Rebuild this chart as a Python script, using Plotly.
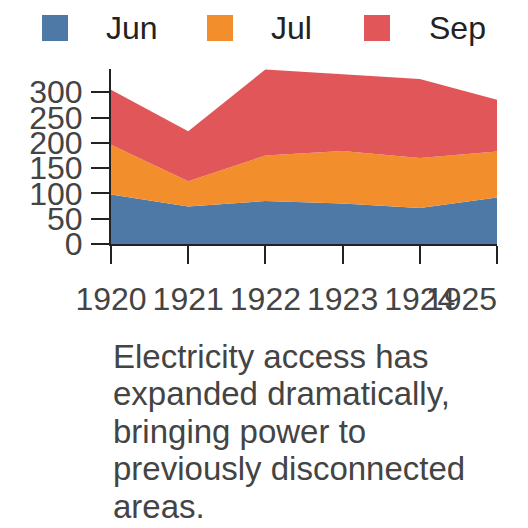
import plotly.graph_objects as go

# data
years = [1920, 1921, 1922, 1923, 1924, 1925]
series_names = ["Jun", "Jul", "Sep"]
jun = [98, 74, 85, 80, 71, 92]
jul = [98, 50, 90, 104, 99, 91]
sep = [109, 99, 170, 151, 156, 102]
y_ticks = [0, 50, 100, 150, 200, 250, 300]
caption_lines = ["Electricity access has", "expanded dramatically,",
                 "bringing power to", "previously disconnected", "areas."]

colors = ["#4e79a7", "#f28e2b", "#e15759"]
font = "Liberation Sans, Arial, sans-serif"

W, H = 528, 528
OFF = 8                          # page body margin shifts the figure by 8px
L, R, T, B = 103, 39, 61, 292    # plot area margins in px


def px_x(p):
    return (p - OFF - L) / (W - L - R)


def px_y(p):
    return (H - B - (p - OFF)) / (H - B - T)


fig = go.Figure()
for name, vals, c in zip(series_names, [jun, jul, sep], colors):
    fig.add_trace(go.Scatter(
        x=years, y=vals, name=name, mode="lines",
        stackgroup="one", line=dict(width=0, color=c),
        fillcolor=c, showlegend=False,
    ))

# hand-made legend (big squares + labels)
legend_sq = [42, 207, 364]
legend_tx = [104, 269, 427]
for name, c, sx, tx in zip(series_names, colors, legend_sq, legend_tx):
    fig.add_shape(type="rect", xref="paper", yref="paper",
                  x0=px_x(sx), x1=px_x(sx + 26), y0=px_y(15), y1=px_y(41),
                  fillcolor=c, line=dict(width=0))
    fig.add_annotation(text=name, xref="paper", yref="paper",
                       x=px_x(tx), y=px_y(28), xanchor="left", yanchor="middle",
                       showarrow=False, font=dict(size=32, color="#222", family=font))

# caption, one line each so the line spacing matches
for i, line in enumerate(caption_lines):
    fig.add_annotation(text=line, xref="paper", yref="paper",
                       x=px_x(111), y=px_y(356 + i * 37.5), xanchor="left", yanchor="middle",
                       align="left", showarrow=False,
                       font=dict(size=33, color="#444", family=font))

nb = "\u00a0" * 8
fig.update_xaxes(
    range=[1920, 1925], tickvals=years,
    ticktext=[str(y) for y in years[:-1]] + [str(years[-1]) + nb],
    tickangle=0, showgrid=False, zeroline=False,
    showline=True, linecolor="#222", linewidth=2,
    ticks="outside", ticklen=18, tickwidth=2, tickcolor="#222",
    tickfont=dict(size=32, color="#444", family=font),
    ticklabelstandoff=8, ticklabeloverflow="allow",
)
fig.update_yaxes(
    range=[0, 346], tickvals=y_ticks,
    showgrid=False, zeroline=False,
    showline=True, linecolor="#222", linewidth=2,
    ticks="outside", ticklen=18, tickwidth=2, tickcolor="#222",
    tickfont=dict(size=32, color="#444", family=font),
    ticklabelstandoff=2,
)
fig.update_layout(
    width=W, height=H,
    margin=dict(l=L, r=R, t=T, b=B, autoexpand=False),
    plot_bgcolor="white", paper_bgcolor="white",
    showlegend=False,
)
fig.write_html("out.html")
